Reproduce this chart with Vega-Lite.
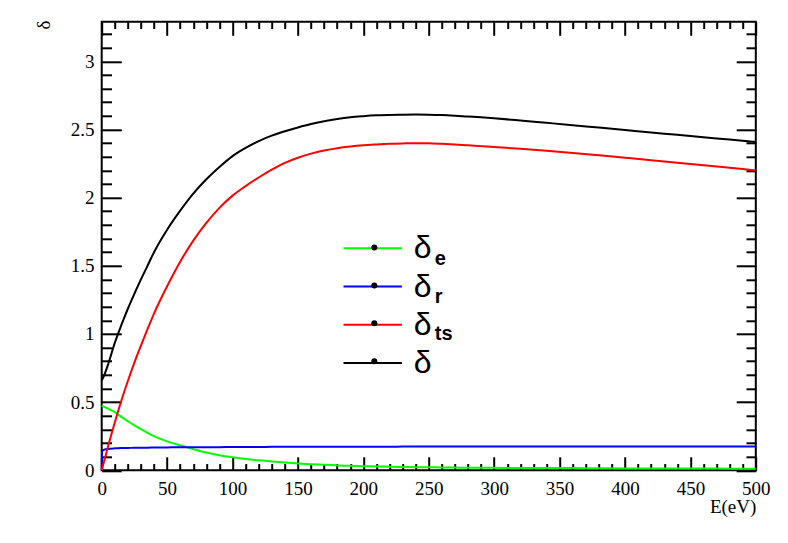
{
  "$schema": "https://vega.github.io/schema/vega-lite/v6.json",
  "width": 654.1,
  "height": 448.5,
  "autosize": {"type": "none"},
  "padding": {"left": 101.7, "top": 21.8, "right": 32.2, "bottom": 72.7},
  "background": "white",
  "config": {
    "view": {"stroke": "black", "strokeWidth": 2},
    "axis": {
      "grid": false,
      "domain": false,
      "tickColor": "black",
      "tickWidth": 2,
      "labelColor": "black",
      "titleColor": "black",
      "labelFont": "Liberation Serif",
      "titleFont": "Liberation Serif",
      "labelFontSize": 19,
      "titleFontSize": 19,
      "titleFontWeight": "normal",
      "labelOverlap": false,
      "labelFlush": false,
      "labelBound": false
    }
  },
  "datasets": {
    "sey": [
      {"E": 0, "de": 0.476, "dr": 0, "dts": 0, "d": 0.662},
      {"E": 0.3, "de": 0.474, "dr": 0.143, "dts": 0.011, "d": 0.665},
      {"E": 2, "de": 0.465, "dr": 0.152, "dts": 0.072, "d": 0.7},
      {"E": 5, "de": 0.45, "dr": 0.157, "dts": 0.18, "d": 0.78},
      {"E": 10, "de": 0.427, "dr": 0.161, "dts": 0.35, "d": 0.935},
      {"E": 15, "de": 0.392, "dr": 0.163, "dts": 0.51, "d": 1.065},
      {"E": 20, "de": 0.36, "dr": 0.164, "dts": 0.655, "d": 1.185},
      {"E": 25, "de": 0.33, "dr": 0.165, "dts": 0.79, "d": 1.295},
      {"E": 30, "de": 0.302, "dr": 0.166, "dts": 0.915, "d": 1.4},
      {"E": 35, "de": 0.275, "dr": 0.166, "dts": 1.035, "d": 1.5},
      {"E": 40, "de": 0.25, "dr": 0.167, "dts": 1.15, "d": 1.6},
      {"E": 50, "de": 0.212, "dr": 0.168, "dts": 1.35, "d": 1.765},
      {"E": 60, "de": 0.183, "dr": 0.169, "dts": 1.53, "d": 1.905},
      {"E": 70, "de": 0.155, "dr": 0.169, "dts": 1.685, "d": 2.03},
      {"E": 80, "de": 0.13, "dr": 0.17, "dts": 1.815, "d": 2.135},
      {"E": 90, "de": 0.111, "dr": 0.17, "dts": 1.925, "d": 2.225},
      {"E": 100, "de": 0.096, "dr": 0.171, "dts": 2.015, "d": 2.305},
      {"E": 110, "de": 0.083, "dr": 0.171, "dts": 2.085, "d": 2.365},
      {"E": 120, "de": 0.073, "dr": 0.171, "dts": 2.148, "d": 2.415},
      {"E": 130, "de": 0.065, "dr": 0.172, "dts": 2.205, "d": 2.455},
      {"E": 140, "de": 0.057, "dr": 0.172, "dts": 2.255, "d": 2.487},
      {"E": 150, "de": 0.05, "dr": 0.172, "dts": 2.293, "d": 2.515},
      {"E": 160, "de": 0.045, "dr": 0.172, "dts": 2.323, "d": 2.54},
      {"E": 170, "de": 0.04, "dr": 0.173, "dts": 2.346, "d": 2.56},
      {"E": 180, "de": 0.036, "dr": 0.173, "dts": 2.363, "d": 2.577},
      {"E": 190, "de": 0.033, "dr": 0.173, "dts": 2.375, "d": 2.59},
      {"E": 200, "de": 0.03, "dr": 0.173, "dts": 2.384, "d": 2.598},
      {"E": 210, "de": 0.028, "dr": 0.173, "dts": 2.39, "d": 2.604},
      {"E": 220, "de": 0.026, "dr": 0.173, "dts": 2.395, "d": 2.607},
      {"E": 230, "de": 0.024, "dr": 0.174, "dts": 2.398, "d": 2.609},
      {"E": 240, "de": 0.023, "dr": 0.174, "dts": 2.4, "d": 2.61},
      {"E": 250, "de": 0.022, "dr": 0.174, "dts": 2.399, "d": 2.609},
      {"E": 260, "de": 0.021, "dr": 0.174, "dts": 2.395, "d": 2.606},
      {"E": 270, "de": 0.02, "dr": 0.174, "dts": 2.39, "d": 2.601},
      {"E": 280, "de": 0.019, "dr": 0.174, "dts": 2.384, "d": 2.595},
      {"E": 290, "de": 0.019, "dr": 0.174, "dts": 2.378, "d": 2.589},
      {"E": 300, "de": 0.018, "dr": 0.174, "dts": 2.372, "d": 2.582},
      {"E": 320, "de": 0.017, "dr": 0.174, "dts": 2.359, "d": 2.566},
      {"E": 340, "de": 0.017, "dr": 0.175, "dts": 2.344, "d": 2.549},
      {"E": 360, "de": 0.016, "dr": 0.175, "dts": 2.328, "d": 2.532},
      {"E": 380, "de": 0.015, "dr": 0.175, "dts": 2.311, "d": 2.514},
      {"E": 400, "de": 0.014, "dr": 0.175, "dts": 2.293, "d": 2.496},
      {"E": 420, "de": 0.014, "dr": 0.175, "dts": 2.275, "d": 2.478},
      {"E": 440, "de": 0.013, "dr": 0.175, "dts": 2.256, "d": 2.461},
      {"E": 460, "de": 0.013, "dr": 0.175, "dts": 2.238, "d": 2.443},
      {"E": 480, "de": 0.012, "dr": 0.175, "dts": 2.219, "d": 2.426},
      {"E": 500, "de": 0.012, "dr": 0.175, "dts": 2.2, "d": 2.408}
    ]
  },
  "resolve": {
    "axis": {"x": "independent", "y": "independent"},
    "legend": {"color": "independent", "shape": "independent", "fill": "independent"}
  },
  "layer": [
    {
      "data": {"name": "sey"},
      "transform": [{"fold": ["de", "dr", "dts", "d"], "as": ["series", "value"]}],
      "mark": {"type": "line", "strokeWidth": 2, "interpolate": "monotone"},
      "encoding": {
        "x": {
          "field": "E",
          "type": "quantitative",
          "scale": {"domain": [0, 500], "nice": false, "zero": false},
          "axis": {
            "orient": "bottom",
            "values": [0,10,20,30,40,50,60,70,80,90,100,110,120,130,140,150,160,170,180,190,200,210,220,230,240,250,260,270,280,290,300,310,320,330,340,350,360,370,380,390,400,410,420,430,440,450,460,470,480,490,500],
            "tickSize": {"condition": {"test": "datum.value % 50 === 0", "value": -13.5}, "value": -6.75},
            "labelExpr": "datum.value % 50 === 0 ? '' + datum.value : ''",
            "labelPadding": 23,
            "labelBaseline": "top",
            "title": "E(eV)",
            "titleAnchor": "end",
            "titleAlign": "right",
            "titleBaseline": "alphabetic",
            "titleX": 654.1,
            "titleY": 42
          }
        },
        "y": {
          "field": "value",
          "type": "quantitative",
          "scale": {"domain": [0, 3.29], "nice": false, "zero": false},
          "axis": {
            "orient": "left",
            "values": [0,0.1,0.2,0.3,0.4,0.5,0.6,0.7,0.8,0.9,1,1.1,1.2,1.3,1.4,1.5,1.6,1.7,1.8,1.9,2,2.1,2.2,2.3,2.4,2.5,2.6,2.7,2.8,2.9,3,3.1,3.2],
            "tickSize": {"condition": {"test": "abs(datum.value*2 - round(datum.value*2)) < 0.001", "value": -19.6}, "value": -9.8},
            "labelExpr": "abs(datum.value*2 - round(datum.value*2)) < 0.001 ? '' + datum.value : ''",
            "labelPadding": 27.3,
            "labelBaseline": "middle",
            "title": "δ",
            "titleAngle": -90,
            "titleAnchor": "end",
            "titleAlign": "right",
            "titleBaseline": "alphabetic",
            "titleX": -51.7,
            "titleY": -1.8
          }
        },
        "color": {
          "field": "series",
          "type": "nominal",
          "scale": {"domain": ["de", "dr", "dts", "d"], "range": ["#00ff00", "#0000ff", "#ff0000", "#000000"]},
          "legend": {
            "title": null,
            "orient": "none",
            "legendX": 255,
            "legendY": 210.4,
            "padding": 0,
            "direction": "vertical",
            "symbolType": "M-3,0H3",
            "symbolSize": 379,
            "symbolStrokeWidth": 2,
            "symbolFillColor": "transparent",
            "labelFont": "Liberation Sans",
            "labelFontSize": 32,
            "labelColor": "black",
            "labelExpr": "'δ'",
            "labelOffset": 25,
            "rowPadding": 6.3
          }
        }
      }
    },
    {
      "data": {"values": []},
      "mark": {"type": "point", "filled": true, "color": "black", "size": 36},
      "encoding": {
        "x": {
          "field": "E",
          "type": "quantitative",
          "axis": {
            "orient": "top",
            "values": [0,10,20,30,40,50,60,70,80,90,100,110,120,130,140,150,160,170,180,190,200,210,220,230,240,250,260,270,280,290,300,310,320,330,340,350,360,370,380,390,400,410,420,430,440,450,460,470,480,490,500],
            "tickSize": {"condition": {"test": "datum.value % 50 === 0", "value": -13.5}, "value": -6.75},
            "labels": false,
            "title": null
          }
        },
        "y": {
          "field": "value",
          "type": "quantitative",
          "axis": {
            "orient": "right",
            "values": [0,0.1,0.2,0.3,0.4,0.5,0.6,0.7,0.8,0.9,1,1.1,1.2,1.3,1.4,1.5,1.6,1.7,1.8,1.9,2,2.1,2.2,2.3,2.4,2.5,2.6,2.7,2.8,2.9,3,3.1,3.2],
            "tickSize": {"condition": {"test": "abs(datum.value*2 - round(datum.value*2)) < 0.001", "value": -19.6}, "value": -9.8},
            "labels": false,
            "title": null
          }
        },
        "shape": {
          "field": "dot",
          "type": "nominal",
          "scale": {"domain": ["a", "b", "c", "d"], "range": ["circle", "circle", "circle", "circle"]},
          "legend": {
            "title": null,
            "orient": "none",
            "legendX": 262.6,
            "legendY": 215.7,
            "padding": 0,
            "zindex": 1,
            "direction": "vertical",
            "symbolType": "circle",
            "symbolSize": 36,
            "symbolFillColor": "black",
            "symbolStrokeColor": "black",
            "symbolStrokeWidth": 0,
            "symbolOpacity": 1,
            "labelFont": "Liberation Sans",
            "labelFontSize": 20,
            "labelExpr": "' '",
            "labelOffset": 55,
            "rowPadding": 17.9
          }
        }
      }
    },
    {
      "data": {"values": []},
      "mark": {"type": "point", "filled": true, "size": 36},
      "encoding": {
        "fill": {
          "field": "sub",
          "type": "nominal",
          "scale": {"domain": ["e", "r", "ts", "-"], "range": ["black", "black", "black", "black"]},
          "legend": {
            "title": null,
            "orient": "none",
            "legendX": 262.6,
            "legendY": 227.2,
            "padding": 0,
            "direction": "vertical",
            "symbolType": "circle",
            "symbolSize": 36,
            "symbolOpacity": 0,
            "symbolStrokeWidth": 0,
            "labelFont": "Liberation Sans",
            "labelFontWeight": "bold",
            "labelFontSize": 20,
            "labelColor": "black",
            "labelExpr": "datum.value === '-' ? ' ' : datum.value",
            "labelOffset": 50.5,
            "rowPadding": 17.6
          }
        }
      }
    }
  ]
}
